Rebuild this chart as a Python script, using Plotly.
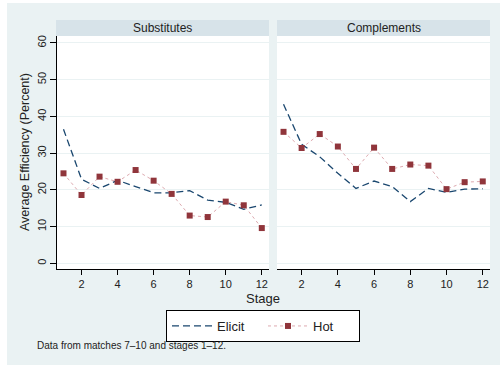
import plotly.graph_objects as go
from plotly.subplots import make_subplots

# Average efficiency by stage, matches 7-10
stages = list(range(1, 13))
panels = ["Substitutes", "Complements"]

subs_elicit = [36.5, 22.9, 20.4, 22.6, 20.9, 19.2, 19.2, 19.8, 17.2, 16.6, 14.7, 15.9]
subs_hot = [24.5, 18.6, 23.6, 22.2, 25.4, 22.5, 18.9, 13.0, 12.6, 16.8, 15.8, 9.6]
comp_elicit = [43.3, 32.4, 29.0, 24.5, 20.4, 22.4, 20.9, 16.8, 20.4, 19.3, 20.2, 20.3]
comp_hot = [35.8, 31.4, 35.2, 31.8, 25.7, 31.5, 25.7, 26.9, 26.6, 20.2, 22.1, 22.3]

x_ticks = [2, 4, 6, 8, 10, 12]
y_ticks = [0, 10, 20, 30, 40, 50, 60]

W, H = 500, 367
NAVY = "#1A476F"
MAROON = "#90353B"
HOT_LINE = "#DDAAB0"
BG = "#EAF2F3"
STRIP = "#D7E3E9"
FONT = "Liberation Sans, Arial, sans-serif"


def px_x(p):
    return p / W


def px_y(p):
    return 1 - p / H


fig = make_subplots(rows=1, cols=2, shared_yaxes=True)

series = [(subs_elicit, subs_hot, 1), (comp_elicit, comp_hot, 2)]
for elicit, hot, col in series:
    fig.add_trace(go.Scatter(
        x=stages, y=elicit, mode="lines", name="Elicit",
        line=dict(color=NAVY, width=1.3, dash="7px,4px"),
        showlegend=(col == 1)), row=1, col=col)
    fig.add_trace(go.Scatter(
        x=stages, y=hot, mode="lines+markers", name="Hot",
        line=dict(color=HOT_LINE, width=1, dash="dot"),
        marker=dict(symbol="square", size=6, color=MAROON),
        showlegend=(col == 1)), row=1, col=col)

x_domains = [(57, 269), (277, 490)]
y_dom = [px_y(269), px_y(36)]
y_range = [-1.55, 61.9]
x_range = [0.64, 12.4]

for i, (a, b) in enumerate(x_domains, start=1):
    fig.update_xaxes(
        domain=[px_x(a), px_x(b)], range=x_range,
        tickvals=x_ticks, ticks="outside", ticklen=5, tickcolor="black",
        showline=True, linecolor="black", linewidth=1.2,
        showgrid=False, zeroline=False,
        tickfont=dict(size=11, color="#222", family=FONT),
        row=1, col=i)
    fig.update_yaxes(
        domain=y_dom, range=y_range, tickvals=y_ticks,
        showgrid=True, gridcolor=BG, gridwidth=1.2, zeroline=False,
        row=1, col=i)

fig.update_yaxes(
    ticks="outside", ticklen=6, tickcolor="black", tickangle=-90,
    showline=True, linecolor="black", linewidth=1.2,
    tickfont=dict(size=11, color="#222", family=FONT),
    row=1, col=1)
fig.update_yaxes(showticklabels=False, showline=False, ticks="", row=1, col=2)

shapes = [
    # white border strips around the graph region
    dict(type="rect", xref="paper", yref="paper", x0=0, x1=px_x(7), y0=0, y1=1,
         fillcolor="white", line_width=0, layer="below"),
    dict(type="rect", xref="paper", yref="paper", x0=0, x1=1, y0=px_y(3), y1=1,
         fillcolor="white", line_width=0, layer="below"),
    dict(type="rect", xref="paper", yref="paper", x0=0, x1=1, y0=0, y1=px_y(365),
         fillcolor="white", line_width=0, layer="below"),
]
annotations = []
header_bounds = [(56, 269), (277, 490)]
for (a, b), name in zip(header_bounds, panels):
    shapes.append(dict(type="rect", xref="paper", yref="paper",
                       x0=px_x(a), x1=px_x(b), y0=px_y(36), y1=px_y(20),
                       fillcolor=STRIP, line_width=0))
    annotations.append(dict(text=name, xref="paper", yref="paper",
                            x=px_x((a + b) / 2), y=px_y(28), showarrow=False,
                            xanchor="center", yanchor="middle",
                            font=dict(size=12, color="#222", family=FONT)))

annotations += [
    dict(text="Average Efficiency (Percent)", xref="paper", yref="paper",
         x=px_x(25), y=px_y(152), textangle=-90, showarrow=False,
         xanchor="center", yanchor="middle",
         font=dict(size=12.5, color="#222", family=FONT)),
    dict(text="Stage", xref="paper", yref="paper",
         x=px_x(263), y=px_y(298), showarrow=False,
         xanchor="center", yanchor="middle",
         font=dict(size=13, color="#222", family=FONT)),
    dict(text="Data from matches 7\u201310 and stages 1\u201312.", xref="paper", yref="paper",
         x=px_x(35), y=px_y(345), showarrow=False,
         xanchor="left", yanchor="middle",
         font=dict(size=10, color="#222", family=FONT)),
]

fig.update_layout(
    width=W, height=H,
    margin=dict(l=0, r=0, t=0, b=0),
    paper_bgcolor=BG, plot_bgcolor="white",
    shapes=shapes, annotations=annotations,
    showlegend=True,
    legend=dict(orientation="h", x=px_x(263), xanchor="center",
                y=px_y(310), yanchor="top",
                bgcolor="white", bordercolor="black", borderwidth=1,
                font=dict(size=13, color="#222", family=FONT),
                itemwidth=40, tracegroupgap=0,
                entrywidth=41, entrywidthmode="pixels"),
    font=dict(family=FONT),
)

fig.write_html("out.html")
